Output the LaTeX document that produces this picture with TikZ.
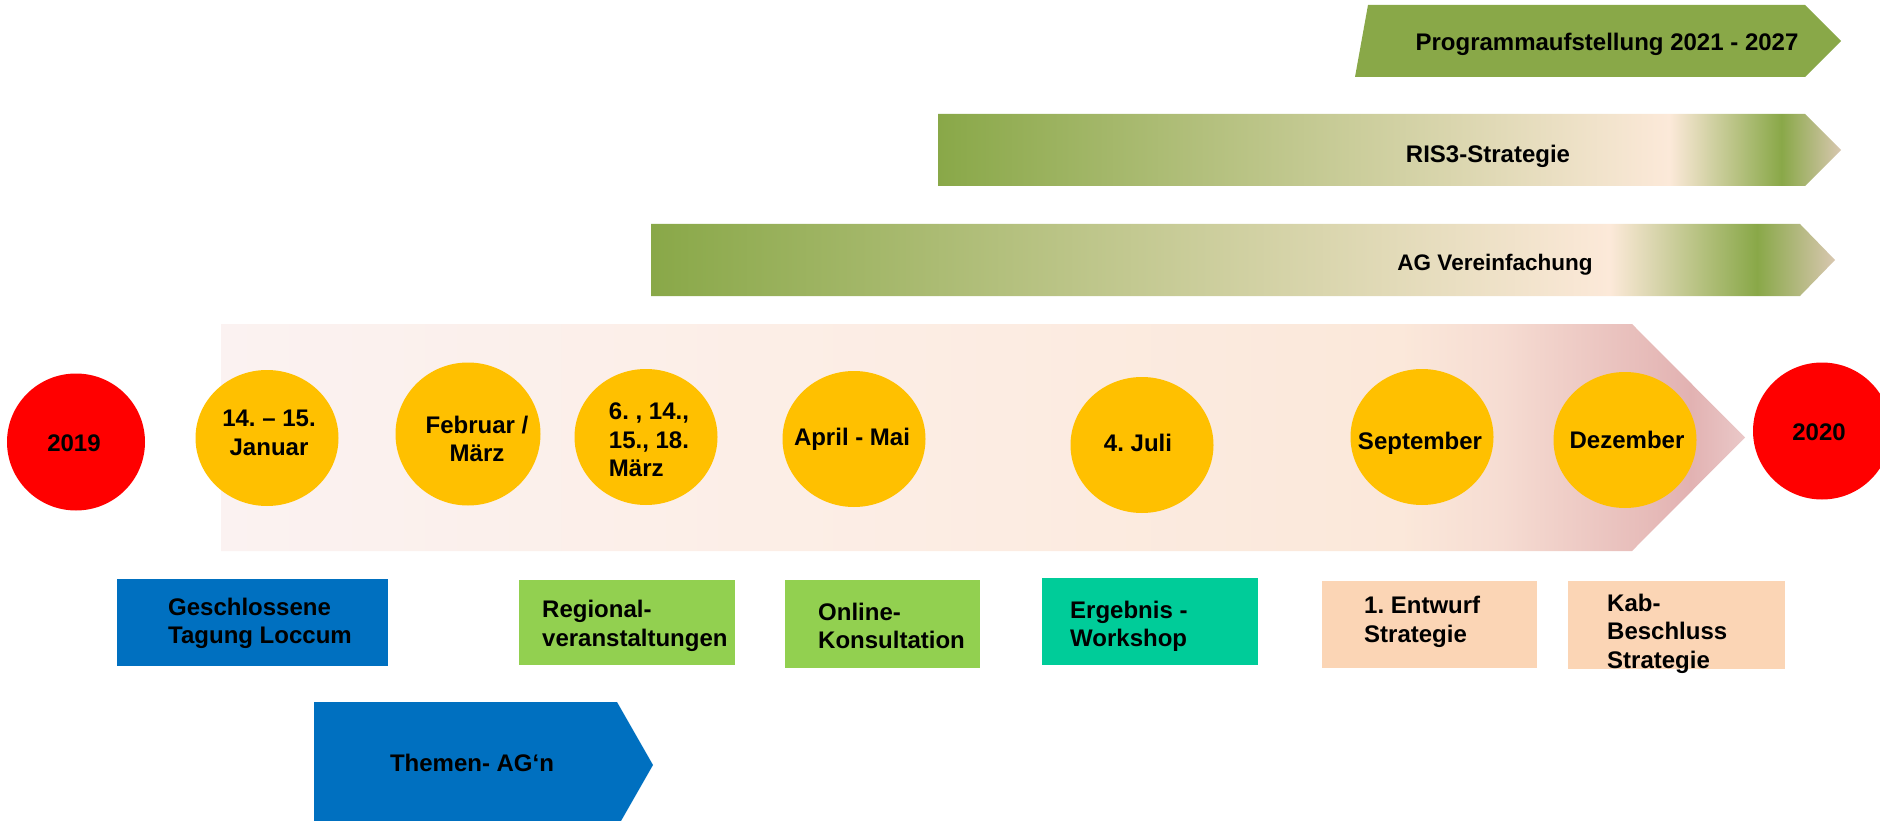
\documentclass[tikz,border=0pt]{standalone}
\usepackage{fontspec}
\setmainfont{Liberation Sans}
\frenchspacing
\usetikzlibrary{shapes.geometric, positioning}
\definecolor{tlred}{RGB}{255,0,0}
\definecolor{tlyellow}{RGB}{255,192,0}
\definecolor{tlblue}{RGB}{0,112,192}
\definecolor{tllime}{RGB}{146,208,80}
\definecolor{tlteal}{RGB}{0,204,153}
\definecolor{tlpeach}{RGB}{251,213,181}
\definecolor{tlgreen}{RGB}{137,168,72}
\definecolor{gbpeach}{RGB}{252,233,217}
\definecolor{gbtan}{RGB}{216,199,176}
\definecolor{pkleft}{RGB}{251,242,241}
\definecolor{pkmid}{RGB}{252,237,228}
\definecolor{pkpeach}{RGB}{251,232,218}
\definecolor{pkrose}{RGB}{246,220,210}
\definecolor{pkdark}{RGB}{226,178,178}
\definecolor{pktip}{RGB}{234,200,200}
\pgfdeclarehorizontalshading{greenband}{100bp}{color(0bp)=(tlgreen); color(25bp)=(tlgreen); color(65.5bp)=(gbpeach); color(71.7bp)=(tlgreen); color(75bp)=(gbtan); color(100bp)=(gbtan)}
\pgfdeclarehorizontalshading{pinkband}{100bp}{color(0bp)=(pkleft); color(25bp)=(pkleft); color(47.3bp)=(pkmid); color(63.7bp)=(pkpeach); color(67bp)=(pkrose); color(73.2bp)=(pkdark); color(75bp)=(pktip); color(100bp)=(pktip)}

\begin{document}
\begin{tikzpicture}[x=1pt, y=-1pt,
    txt/.style={font=\bfseries\fontsize{24}{28.5}\selectfont, inner sep=0pt, align=center},
    yeardot/.style={ellipse, fill=tlred, minimum width=138pt, minimum height=137pt, inner sep=0pt},
    milestone/.style={ellipse, fill=tlyellow, minimum width=143pt, minimum height=136pt, inner sep=0pt},
    tlbox/.style={rectangle, minimum width=216pt, minimum height=87pt, inner sep=0pt}]
    \useasboundingbox (0,0) rectangle (1880,821);

    % Programme bars
    \fill[tlgreen] (1368,5) -- (1805,5) -- (1841,41) -- (1805,77) -- (1355,77) -- cycle;
    \node[txt] (prog) at (1607,44) {Programmaufstellung 2021 - 2027};

    \shade[shading=greenband] (938,114) -- (1805,114) -- (1841,150) -- (1805,186) -- (938,186) -- cycle;
    \node[txt] (ris) at (1488,156) {RIS3-Strategie};

    \shade[shading=greenband] (651,224) -- (1800,224) -- (1835,260) -- (1800,296) -- (651,296) -- cycle;
    \node[txt, font=\bfseries\fontsize{22.5}{27}\selectfont] (agv) at (1495,265) {AG Vereinfachung};

    % Timeline arrow
    \shade[shading=pinkband] (221,324) -- (1632,324) -- (1745,437.5) -- (1632,551) -- (221,551) -- cycle;

    % Years
    \node[yeardot] (y2019) at (76,442) {};
    \node[txt] at (74,443) {2019};
    \node[yeardot] (y2020) at (1822,431) {};
    \node[txt] at (1819,432) {2020};

    % Milestones
    \node[milestone] (jan) at (267,438) {};
    \node[txt] at (269,433) {14. – 15.\\Januar};
    \node[milestone, minimum width=145pt, minimum height=143pt] (feb) at (468,434) {};
    \node[txt] at (477,439) {Februar /\\März};
    \node[milestone] (maerz) at (646,437) {};
    \node[txt, align=left] at (649,440) {6. , 14.,\\15., 18.\\März};
    \node[milestone] (april) at (854,439) {};
    \node[txt] at (852,439) {April - Mai};
    \node[milestone] (juli) at (1142,445) {};
    \node[txt] at (1138,443) {4. Juli};
    \node[milestone] (sept) at (1422,437) {};
    \node[txt] at (1420,443) {September};
    \node[milestone] (dez) at (1625,440) {};
    \node[txt] at (1627,440) {Dezember};

    % Formats below the timeline
    \node[tlbox, fill=tlblue, minimum width=271pt] (geschl) at (252.5,622.5) {};
    \node[txt, anchor=west, align=left] at (168,623.5) {Geschlossene\\Tagung Loccum};
    \node[tlbox, fill=tllime, minimum height=85pt] (regional) at (627,622.5) {};
    \node[txt, anchor=west, align=left] at (542,626) {Regional-\\veranstaltungen};
    \node[tlbox, fill=tllime, minimum width=195pt, minimum height=88pt] (online) at (882.5,624) {};
    \node[txt, anchor=west, align=left] at (818,626) {Online-\\Konsultation};
    \node[tlbox, fill=tlteal] (ergebnis) at (1150,621.5) {};
    \node[txt, anchor=west, align=left] at (1070,626.5) {Ergebnis -\\Workshop};
    \node[tlbox, fill=tlpeach, minimum width=215pt] (entwurf) at (1429.5,624.5) {};
    \node[txt, anchor=west, align=left] at (1364,622) {1. Entwurf\\Strategie};
    \node[tlbox, fill=tlpeach, minimum width=217pt, minimum height=88pt] (kab) at (1676.5,625) {};
    \node[txt, anchor=west, align=left] at (1607,633.5) {Kab-\\Beschluss\\Strategie};

    % Working groups
    \fill[tlblue] (314,702) -- (617,702) -- (653,765) -- (617,828) -- (314,828) -- cycle;
    \node[txt] (themen) at (472,763) {Themen- AG‘n};
\end{tikzpicture}
\end{document}
